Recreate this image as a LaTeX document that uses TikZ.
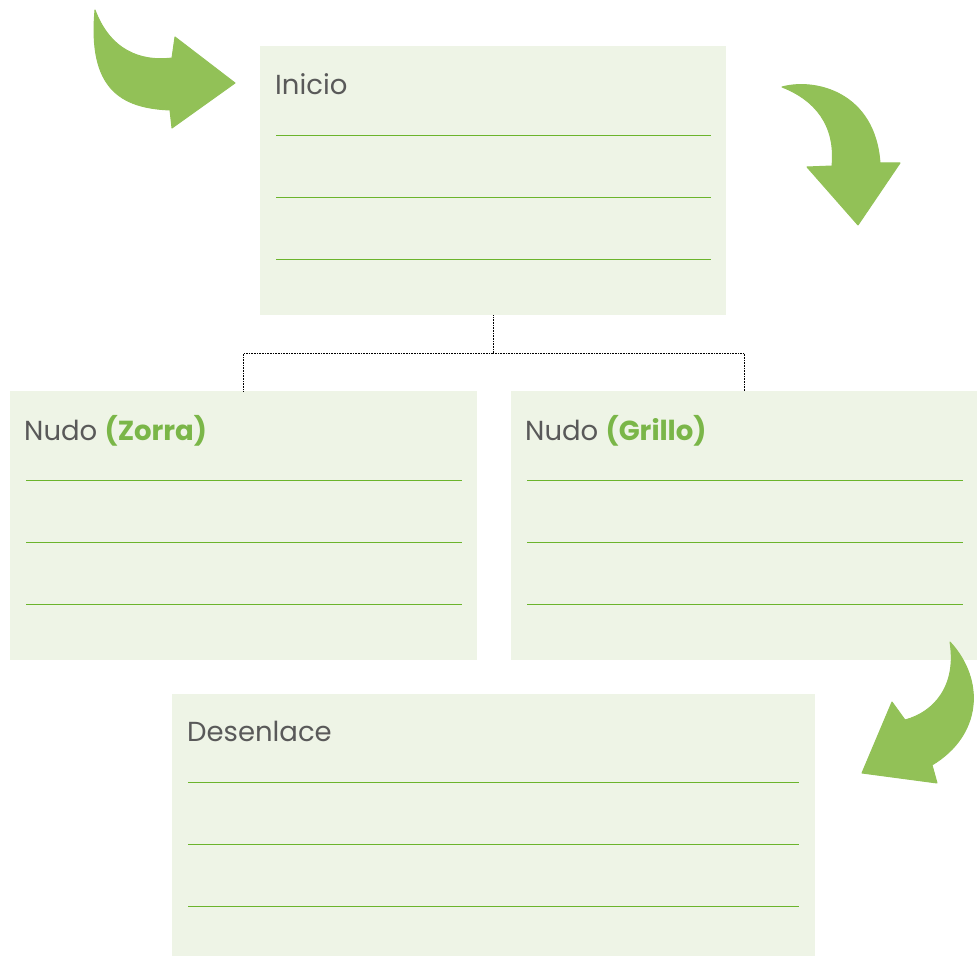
\documentclass[tikz,border=0pt]{standalone}
\usepackage{fontspec}
\setmainfont{Poppins}
\usepackage{xcolor}
\usetikzlibrary{calc, positioning}

\definecolor{boxfill}{HTML}{EEF4E6}
\definecolor{rulegreen}{HTML}{6BB42C}
\definecolor{labelgray}{HTML}{595959}
\definecolor{namegreen}{HTML}{7AB648}
\definecolor{arrowgreen}{HTML}{92C157}

\begin{document}
\begin{tikzpicture}[x=1pt, y=-1pt,
    card/.style={fill=boxfill, draw=none, anchor=north west, inner sep=0pt},
    title/.style={anchor=base west, inner sep=0pt, text=labelgray, font=\fontsize{27.5}{32}\selectfont},
    rule/.style={draw=rulegreen, line width=0.8pt},
    link/.style={draw=black, densely dotted, line width=0.6pt},
    curlarrow/.style={fill=arrowgreen, draw=arrowgreen, line width=1pt, line join=round}
  ]
  \useasboundingbox (0,0) rectangle (980,957);

  % cards
  \node[card, minimum width=466, minimum height=269] (inicio)    at (260,46)  {};
  \node[card, minimum width=467, minimum height=269] (zorra)     at (10,391)  {};
  \node[card, minimum width=466, minimum height=269] (grillo)    at (511,391) {};
  \node[card, minimum width=643, minimum height=262] (desenlace) at (172,694) {};

  % titles
  \node[title] (tInicio)    at ($(inicio.north west)+(15,49)$)    {Inicio};
  \node[title] (tZorra)     at ($(zorra.north west)+(14,49)$)     {Nudo \textbf{\color{namegreen}(Zorra)}};
  \node[title] (tGrillo)    at ($(grillo.north west)+(14,49)$)    {Nudo \textbf{\color{namegreen}(Grillo)}};
  \node[title] (tDesenlace) at ($(desenlace.north west)+(15,47)$) {Desenlace};

  % writing lines
  \foreach \c/\w in {inicio/435, zorra/436, grillo/436} {
    \foreach \d in {89, 151, 213}
      \draw[rule] ($(\c.north west)+(16,\d)$) -- ++(\w,0);
  }
  \foreach \d in {88, 150, 212}
    \draw[rule] ($(desenlace.north west)+(16,\d)$) -- ++(611,0);

  % tree connector
  \coordinate (split) at ($(inicio.south)+(0,38)$);
  \draw[link] (inicio.south) -- (split) -| (zorra.north);
  \draw[link] (split) -| (grillo.north);

  % curved arrows
  \fill[curlarrow] (95,10) .. controls (110,50) and (140,62) .. (172,58)
    -- (175,37) -- (235,83) -- (172,128) -- (170,110)
    .. controls (120,108) and (88,88) .. (95,10) -- cycle;
  \fill[curlarrow] (782,87) .. controls (815,78) and (875,92) .. (880,163)
    -- (900,163) -- (858,225) -- (807,167) -- (832,166)
    .. controls (836,125) and (815,100) .. (782,87) -- cycle;
  \fill[curlarrow] (950,642) .. controls (985,680) and (982,735) .. (932,765)
    -- (937,783) -- (862,773) -- (892,702) -- (905,720)
    .. controls (935,712) and (957,685) .. (950,642) -- cycle;
\end{tikzpicture}
\end{document}
